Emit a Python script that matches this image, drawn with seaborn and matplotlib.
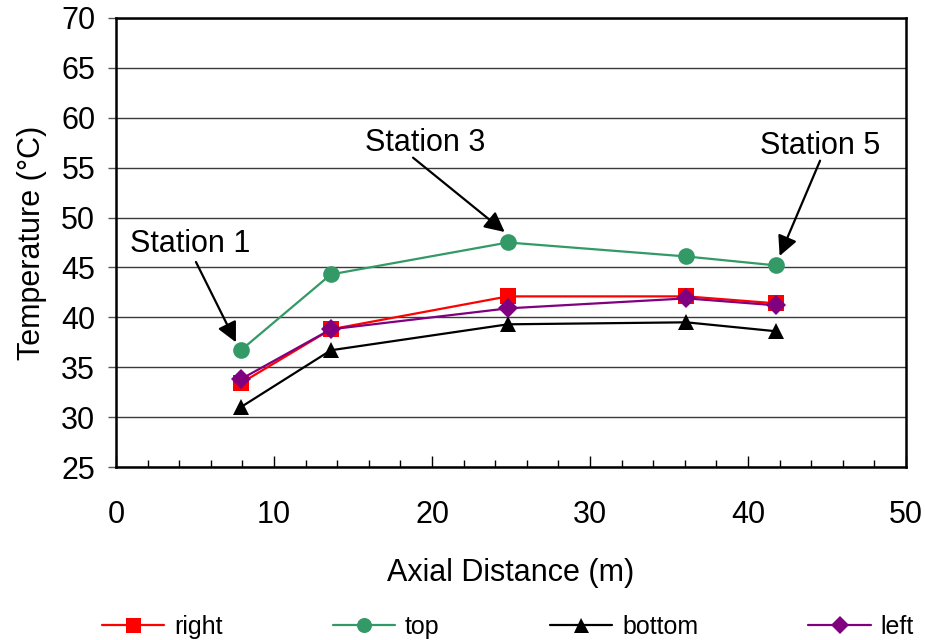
import matplotlib
matplotlib.use("Agg")
import matplotlib.pyplot as plt
from matplotlib.ticker import MultipleLocator
import pandas as pd
import seaborn as sns

# Thermocouple readings along the axial direction
axial_distance = [7.9, 13.6, 24.8, 36.1, 41.8]
temp_right = [33.4, 38.8, 42.1, 42.1, 41.4]
temp_top = [36.7, 44.3, 47.5, 46.1, 45.2]
temp_bottom = [31.0, 36.7, 39.3, 39.5, 38.6]
temp_left = [33.8, 38.8, 40.9, 41.9, 41.2]

series_names = ["right", "top", "bottom", "left"]
series_colors = ["#FF0000", "#339966", "#000000", "#800080"]
series_markers = ["s", "o", "^", "D"]
series_sizes = [12, 12, 12, 10]

rows = []
for name, vals in zip(series_names, [temp_right, temp_top, temp_bottom, temp_left]):
    for x, y in zip(axial_distance, vals):
        rows.append({"Axial Distance (m)": x, "Temperature": y, "position": name})
df = pd.DataFrame(rows)

sns.set_theme(style="white")
plt.rcParams["font.family"] = ["Liberation Sans", "DejaVu Sans"]
plt.rcParams["text.color"] = "black"
plt.rcParams["axes.labelcolor"] = "black"
plt.rcParams["xtick.color"] = "black"
plt.rcParams["ytick.color"] = "black"

fig = plt.figure(figsize=(9.25, 6.4), dpi=100)
ax = fig.add_axes([0.1254, 0.2703, 0.8541, 0.7016])

for name, color, marker, ms in zip(series_names, series_colors, series_markers, series_sizes):
    sub = df[df["position"] == name]
    sns.lineplot(data=sub, x="Axial Distance (m)", y="Temperature", ax=ax,
                 color=color, marker=marker, markersize=ms, markeredgewidth=0,
                 linewidth=1.6, label=name, legend=False, sort=False)

ax.set_xlim(0, 50)
ax.set_ylim(25, 70)
ax.xaxis.set_major_locator(MultipleLocator(10))
ax.xaxis.set_minor_locator(MultipleLocator(2))
ax.yaxis.set_major_locator(MultipleLocator(5))
ax.grid(axis="y", color="#3a3a3a", linewidth=1.0)
ax.set_axisbelow(True)
for sp in ax.spines.values():
    sp.set_color("black")
    sp.set_linewidth(1.8)

ax.tick_params(axis="x", which="major", direction="in", length=8, width=1,
               color="black", labelcolor="black", labelsize=22, pad=24, bottom=True)
ax.tick_params(axis="x", which="minor", direction="in", length=5, width=1,
               color="black", bottom=True)
ax.tick_params(axis="y", which="major", direction="out", length=6, width=1,
               color="#555555", labelcolor="black", labelsize=22, pad=9, left=True)

ax.set_xlabel("Axial Distance (m)", fontsize=22, labelpad=20, color="black")
ax.set_ylabel("Temperature (°C)", fontsize=22, labelpad=10, color="black")

# Station callouts
callouts = [
    ("Station 1", (4.68, 47.35), (5.06, 45.55), (7.59, 37.5)),
    ("Station 3", (19.56, 57.5), (18.8, 56.0), (24.6, 48.55)),
    ("Station 5", (44.56, 57.2), (44.56, 55.7), (42.0, 46.15)),
]
for label, text_pos, start, tip in callouts:
    ax.text(text_pos[0], text_pos[1], label, fontsize=22, ha="center", va="center",
            color="black")
    ax.annotate("", xy=tip, xytext=start,
                arrowprops=dict(arrowstyle="-|>", color="black", lw=1.6,
                                mutation_scale=30, shrinkA=0, shrinkB=0))

handles, labels = ax.get_legend_handles_labels()
leg = fig.legend(handles, labels, loc="center", bbox_to_anchor=(0.549, 0.02),
                 ncol=4, frameon=False, fontsize=18, handlelength=2.5,
                 columnspacing=4.4, handletextpad=0.4, markerscale=0.9,
                 borderpad=0, borderaxespad=0)
for t in leg.get_texts():
    t.set_color("black")

fig.savefig("out.png", dpi=100)
